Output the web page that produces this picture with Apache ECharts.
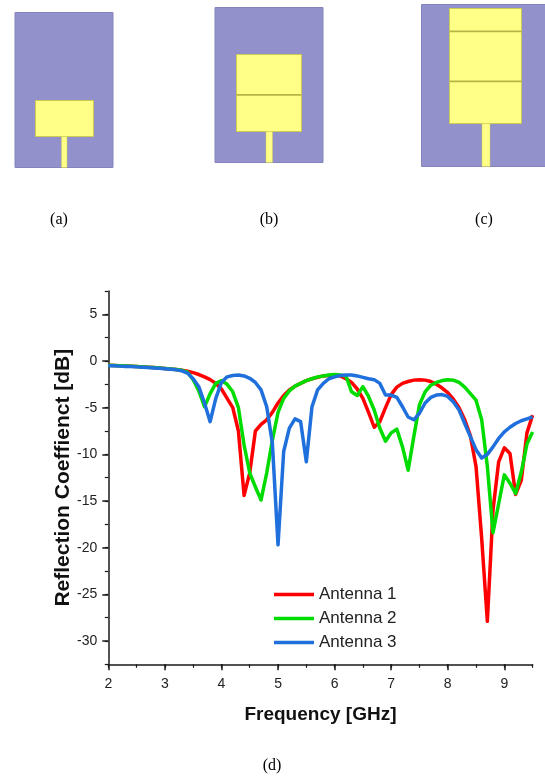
<!DOCTYPE html>
<html><head><meta charset="utf-8">
<style>html,body{margin:0;padding:0;background:#fff}#c{width:545px;height:776px}</style>
<script src="https://cdn.jsdelivr.net/npm/echarts@6/dist/echarts.min.js"></script>
</head><body><div id="c"></div>
<script>
const frequency = [2.0,2.1,2.2,2.3,2.4,2.5,2.6,2.7,2.8,2.9,3.0,3.1,3.2,3.3,3.4,3.5,3.6,3.7,3.8,3.9,
4.0,4.1,4.2,4.3,4.4,4.5,4.6,4.7,4.8,4.9,5.0,5.1,5.2,5.3,5.4,5.5,5.6,5.7,5.8,5.9,
6.0,6.1,6.2,6.3,6.4,6.5,6.6,6.7,6.8,6.9,7.0,7.1,7.2,7.3,7.4,7.5,7.6,7.7,7.8,7.9,
8.0,8.1,8.2,8.3,8.4,8.5,8.6,8.7,8.8,8.9,9.0,9.1,9.2,9.3,9.4,9.5];
const antenna1 = [-0.45,-0.48,-0.5,-0.53,-0.56,-0.6,-0.63,-0.67,-0.7,-0.75,-0.8,-0.85,-0.92,-1.0,-1.1,-1.25,-1.45,-1.7,-2.0,-2.4,
-3.0,-4.0,-5.0,-7.5,-14.4,-12.0,-7.5,-6.8,-6.3,-5.5,-4.5,-3.7,-3.1,-2.7,-2.4,-2.1,-1.9,-1.75,-1.6,-1.55,
-1.5,-1.6,-1.9,-2.3,-3.0,-4.0,-5.5,-7.1,-6.5,-5.0,-3.6,-2.8,-2.4,-2.2,-2.05,-2.0,-2.05,-2.2,-2.5,-2.9,
-3.4,-4.1,-5.0,-6.3,-8.0,-11.3,-19.0,-27.9,-16.0,-10.8,-9.3,-9.9,-14.3,-12.8,-7.7,-5.8];
const antenna2 = [-0.45,-0.48,-0.5,-0.53,-0.56,-0.6,-0.63,-0.67,-0.7,-0.75,-0.8,-0.85,-0.92,-1.0,-1.2,-2.0,-3.2,-4.9,-3.5,-2.4,
-2.1,-2.5,-3.3,-5.0,-9.0,-12.0,-13.5,-14.9,-12.0,-8.5,-5.5,-4.0,-3.2,-2.7,-2.4,-2.1,-1.9,-1.7,-1.6,-1.5,
-1.45,-1.5,-1.6,-3.3,-3.7,-2.75,-3.8,-5.25,-7.2,-8.6,-7.7,-7.3,-9.2,-11.7,-8.1,-4.7,-3.3,-2.6,-2.3,-2.1,
-2.0,-2.05,-2.3,-2.8,-3.5,-4.2,-6.3,-11.3,-18.4,-15.3,-12.2,-13.1,-14.2,-11.9,-8.9,-7.6];
const antenna3 = [-0.5,-0.52,-0.55,-0.58,-0.6,-0.63,-0.66,-0.7,-0.74,-0.78,-0.82,-0.88,-0.95,-1.05,-1.3,-1.9,-2.75,-4.5,-6.5,-4.0,
-2.3,-1.7,-1.55,-1.5,-1.6,-1.85,-2.3,-3.1,-4.9,-8.8,-19.7,-9.7,-7.2,-6.2,-6.5,-10.8,-4.9,-3.1,-2.4,-1.9,
-1.7,-1.55,-1.5,-1.5,-1.6,-1.75,-1.9,-2.0,-2.4,-3.65,-3.65,-3.9,-4.9,-6.0,-6.3,-5.6,-4.5,-3.9,-3.65,-3.6,
-3.8,-4.4,-5.25,-6.7,-8.1,-9.5,-10.4,-10.0,-9.2,-8.3,-7.6,-7.1,-6.7,-6.4,-6.2,-6.0];
const seriesNames = ['Antenna 1','Antenna 2','Antenna 3'];
const seriesValues = [antenna1, antenna2, antenna3];
const seriesColors = ['#ff0000','#00dc00','#1f6fdc'];
const xTickValues = [2,3,4,5,6,7,8,9];
const yTickValues = [5,0,-5,-10,-15,-20,-25,-30];
const panelLabels = ['(a)','(b)','(c)','(d)'];

const BLUE='#9391cb', YEL='#ffff88', EDGE='#cccc55', LINE='#b5b545';
function rect(x,y,w,h,fill,stroke,lw){return {type:'rect',shape:{x,y,width:w,height:h},style:{fill,stroke:stroke||null,lineWidth:lw||0},silent:true};}
function text(t,x,y){return {type:'text',x,y,style:{text:t,font:'16px "Liberation Serif"',fill:'#000',textAlign:'center',textVerticalAlign:'middle'},silent:true};}
const graphicEls=[
 rect(15,12.5,98,155,BLUE,'#8583bd',1), rect(35.5,100.5,58,36,YEL,EDGE,1), rect(61.5,136.5,5.5,31,YEL,EDGE,.5),
 rect(215,7.5,108,155,BLUE,'#8583bd',1), rect(236.5,54.5,65,77,YEL,EDGE,1), rect(236.5,94,65,1.8,LINE), rect(266,131.5,6.5,31,YEL,EDGE,.5),
 rect(421.5,4.5,124,162,BLUE,'#8583bd',1), rect(449.5,8.5,72,115,YEL,EDGE,1), rect(449.5,30.5,72,1.8,LINE), rect(449.5,80.5,72,1.8,LINE), rect(482,123.5,8,43,YEL,EDGE,.5),
 text(panelLabels[0],59,220), text(panelLabels[1],269,220), text(panelLabels[2],484,220), text(panelLabels[3],272,766)
];
const axisCol='#1a1a1a';
const labelFont={fontFamily:'"Liberation Sans"',fontSize:14,color:'#222'};
const chart=echarts.init(document.getElementById('c'),null,{renderer:'canvas'});
chart.setOption({
 animation:false,
 graphic:{elements:graphicEls},
 legend:{show:true,orient:'vertical',left:274,top:586,padding:0,itemWidth:40,itemHeight:14,itemGap:7,
   icon:'path://M0 0H40V3.5H0Z',
   textStyle:{fontFamily:'"Liberation Sans"',fontSize:17,color:'#222'},
   data:seriesNames},
 grid:{left:108.3,right:12.4,top:291,bottom:111.7},
 xAxis:[
  {type:'value',min:2,max:9.5,position:'bottom',name:'Frequency [GHz]',nameLocation:'middle',nameGap:41,nameMoveOverlap:false,
   nameTextStyle:{fontFamily:'"Liberation Sans"',fontSize:19,fontWeight:'bold',color:'#111'},
   axisLine:{show:true,onZero:false,lineStyle:{color:axisCol,width:1.5}},
   axisTick:{show:true,length:6,customValues:xTickValues,lineStyle:{color:axisCol,width:1.5}},
   axisLabel:{...labelFont,margin:13,customValues:xTickValues,formatter:v=>String(v),hideOverlap:false},splitLine:{show:false}},
  {type:'value',min:2,max:9.5,interval:0.5,position:'bottom',
   axisLine:{show:false,onZero:false},axisTick:{show:true,length:3.5,lineStyle:{color:axisCol,width:1.2}},axisLabel:{show:false},splitLine:{show:false}}
 ],
 yAxis:[
  {type:'value',min:-32.5,max:7.5,position:'left',name:'Reflection Coeffienct [dB]',nameLocation:'middle',nameGap:35,nameMoveOverlap:false,
   nameTextStyle:{fontFamily:'"Liberation Sans"',fontSize:21,fontWeight:'bold',color:'#111'},
   axisLine:{show:true,onZero:false,lineStyle:{color:axisCol,width:1.5}},
   axisTick:{show:true,length:6,customValues:yTickValues,lineStyle:{color:axisCol,width:1.5}},
   axisLabel:{...labelFont,margin:11,customValues:yTickValues,formatter:v=>String(v),hideOverlap:false},splitLine:{show:false}},
  {type:'value',min:-32.5,max:7.5,interval:2.5,position:'left',
   axisLine:{show:false,onZero:false},axisTick:{show:true,length:3.5,lineStyle:{color:axisCol,width:1.2}},axisLabel:{show:false},splitLine:{show:false}}
 ],
 series:seriesNames.map((n,i)=>({name:n,type:'line',xAxisIndex:0,yAxisIndex:0,showSymbol:false,symbol:'none',smooth:false,
   lineStyle:{color:seriesColors[i],width:3.5,join:'round'},itemStyle:{color:seriesColors[i]},
   data:frequency.map((f,j)=>[f,seriesValues[i][j]])}))
});
</script></body></html>
